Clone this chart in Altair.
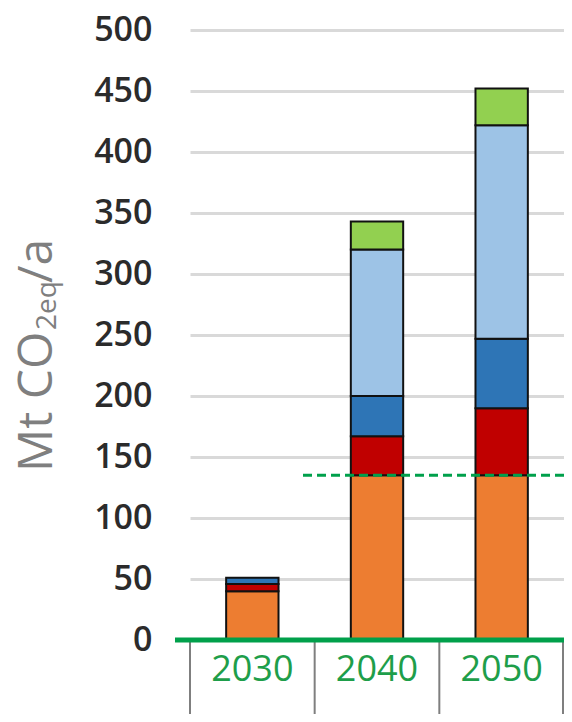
import altair as alt
import pandas as pd

# ---- data ----
years = ["2030", "2040", "2050"]
series = ["Series 1", "Series 2", "Series 3", "Series 4", "Series 5"]
colors = ["#ED7D31", "#C00000", "#2E75B6", "#9DC3E6", "#92D050"]
series_1 = [40, 135, 135]   # orange
series_2 = [6, 32, 55]      # red
series_3 = [5, 33, 57]      # dark blue
series_4 = [0, 120, 175]    # light blue
series_5 = [0, 23, 30]      # green
threshold = [135]           # dashed green line
y_ticks = [0, 50, 100, 150, 200, 250, 300, 350, 400, 450, 500]
title_main = "Mt CO"
title_sub = "2eq"
title_end = "/a"

rows = []
for si, (name, vals) in enumerate(zip(series, [series_1, series_2, series_3, series_4, series_5])):
    for yr, v in zip(years, vals):
        if v > 0:
            rows.append({"year": yr, "series": name, "value": v, "order": si})
df = pd.DataFrame(rows)

W, H = 374, 610
FONT = "Open Sans"
GREEN = "#1E9E4A"
xscale = alt.Scale(domain=years, paddingInner=0, paddingOuter=0)
yscale = alt.Scale(domain=[0, 500], nice=False)

x_axis = alt.Axis(title=None, domain=False, ticks=False, grid=False,
                  labelColor=GREEN, labelFontSize=36, labelFont=FONT,
                  labelPadding=12, labelAngle=0)
y_axis = alt.Axis(values=y_ticks, title=None, domain=False, ticks=False,
                  labelFontSize=34, labelFont=FONT, labelColor="#2b2b2b",
                  labelFontWeight=600,
                  labelPadding=38, gridColor="#d9d9d9", gridWidth=3)

bars = alt.Chart(df).mark_bar(
    width=alt.RelativeBandSize(0.42), stroke="#111111", strokeWidth=2
).encode(
    x=alt.X("year:N", scale=xscale, sort=years, axis=x_axis),
    y=alt.Y("value:Q", stack="zero", scale=yscale, axis=y_axis),
    color=alt.Color("series:N", scale=alt.Scale(domain=series, range=colors), legend=None),
    order=alt.Order("order:Q"),
)

tick_df = pd.DataFrame({"year": years})
ticks = alt.Chart(tick_df).mark_rule(color="#7f7f7f", strokeWidth=2).encode(
    x=alt.X("year:N", scale=xscale, sort=years, bandPosition=0, axis=x_axis),
    y=alt.value(H), y2=alt.value(H + 90),
)
end_tick = alt.Chart(pd.DataFrame({"k": [0]})).mark_rule(color="#7f7f7f", strokeWidth=2).encode(
    x=alt.value(W - 1), y=alt.value(H), y2=alt.value(H + 90),
)

base_df = pd.DataFrame({"v": [0]})
baseline = alt.Chart(base_df).mark_rule(color="#00A04B", strokeWidth=5).encode(
    y=alt.Y("v:Q", scale=yscale, axis=y_axis), x=alt.value(-15), x2=alt.value(W),
)

thr_df = pd.DataFrame({"v": threshold})
dashed = alt.Chart(thr_df).mark_rule(color="#00A04B", strokeWidth=3, strokeDash=[9, 5]).encode(
    y=alt.Y("v:Q", scale=yscale, axis=y_axis), x=alt.value(113), x2=alt.value(W),
)

def title_piece(txt, x, y, size):
    return alt.Chart(pd.DataFrame({"t": [txt]})).mark_text(
        angle=270, align="left", baseline="alphabetic", fontSize=size,
        color="#7f7f7f", font=FONT
    ).encode(text="t:N", x=alt.value(x), y=alt.value(y))

t1 = title_piece(title_main, -138, 442, 48)
t2 = title_piece(title_sub, -134, 300, 28)
t3 = title_piece(title_end, -138, 253, 48)

chart = alt.layer(bars, ticks, end_tick, dashed, baseline, t1, t2, t3).properties(
    width=W, height=H,
    padding={"left": 182, "top": 22, "right": 0, "bottom": 74},
    autosize=alt.AutoSizeParams(type="none"),
).configure_view(stroke=None)

chart.save("out.html", embed_options={"renderer": "svg", "actions": False})
